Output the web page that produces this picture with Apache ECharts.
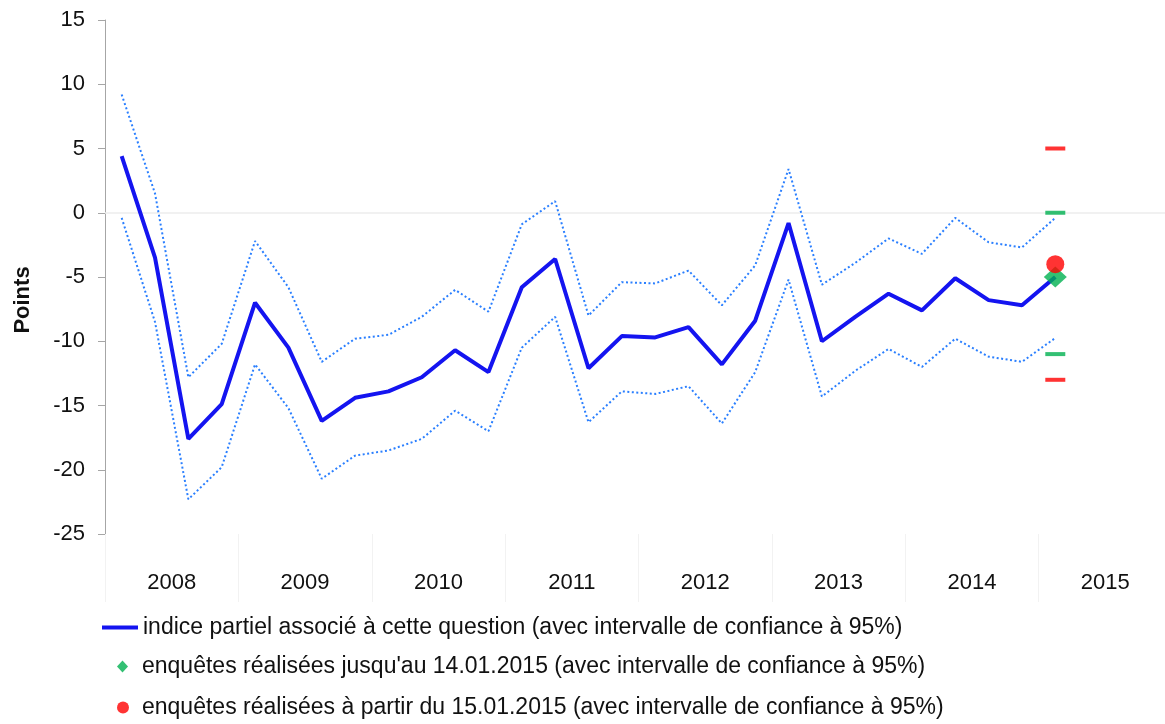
<!DOCTYPE html>
<html>
<head>
<meta charset="utf-8">
<script src="https://cdn.jsdelivr.net/npm/echarts@6/dist/echarts.min.js"></script>
<style>
html,body{margin:0;padding:0;background:#fff;overflow:hidden;width:1165px;height:724px;}
#chart{width:1172px;height:724px;}
</style>
</head>
<body>
<div id="chart"></div>
<script>
const quarters = ['2008T1','2008T2','2008T3','2008T4','2009T1','2009T2','2009T3','2009T4',
  '2010T1','2010T2','2010T3','2010T4','2011T1','2011T2','2011T3','2011T4',
  '2012T1','2012T2','2012T3','2012T4','2013T1','2013T2','2013T3','2013T4',
  '2014T1','2014T2','2014T3','2014T4','2015T1','2015T2','2015T3','2015T4'];
const years = ['2008','2009','2010','2011','2012','2013','2014','2015'];
const yTicks = { min: -25, max: 15, step: 5 };

const indexValues = [4.4, -3.5, -17.6, -14.9, -7.0, -10.5, -16.2, -14.4, -13.9, -12.8, -10.7, -12.4,
  -5.8, -3.6, -12.1, -9.6, -9.7, -8.9, -11.8, -8.4, -0.8, -10.0, -8.1, -6.3, -7.6, -5.1, -6.8, -7.2, -5.0];
const upperCI = [9.2, 1.5, -12.8, -10.2, -2.2, -5.8, -11.6, -9.8, -9.5, -8.1, -6.0, -7.7,
  -0.9, 0.9, -8.0, -5.4, -5.5, -4.5, -7.2, -4.1, 3.4, -5.6, -3.9, -2.0, -3.2, -0.4, -2.3, -2.7, -0.4];
const lowerCI = [-0.4, -8.5, -22.3, -19.8, -11.8, -15.2, -20.7, -18.9, -18.5, -17.6, -15.4, -17.0,
  -10.5, -8.1, -16.3, -13.9, -14.1, -13.5, -16.4, -12.4, -5.2, -14.3, -12.3, -10.6, -12.0, -9.8, -11.2, -11.6, -9.75];

const greenPoint = [['2015T1', -5.0]];
const greenCI = [['2015T1', 0.0], ['2015T1', -11.0]];
const redPoint = [['2015T1', -4.0]];
const redCI = [['2015T1', 5.0], ['2015T1', -13.0]];

const names = [
  'indice partiel associé à cette question (avec intervalle de confiance à 95%)',
  "enquêtes réalisées jusqu'au 14.01.2015 (avec intervalle de confiance à 95%)",
  'enquêtes réalisées à partir du 15.01.2015 (avec intervalle de confiance à 95%)'
];

const FONT = '"Liberation Sans", Arial, sans-serif';
const chart = echarts.init(document.getElementById('chart'));
const legendText = { fontSize: 23, fontFamily: FONT, color: '#111' };

chart.setOption({
  animation: false,
  grid: { left: 105, top: 20, bottom: 190, right: 0 },
  graphic: [{
    type: 'text', x: 23, y: 300, rotation: Math.PI / 2,
    style: { text: 'Points', font: 'bold 22px ' + FONT, fill: '#111', align: 'center', verticalAlign: 'middle' }
  }],
  legend: [
    { data: [{ name: names[0], icon: 'rect' }], left: 102, top: 616, padding: 0, itemWidth: 36, itemHeight: 4,
      textStyle: legendText, selectedMode: false },
    { data: [{ name: names[1], icon: 'diamond' }], left: 117, top: 655, padding: 0, itemWidth: 11, itemHeight: 12,
      textStyle: Object.assign({ padding: [0, 0, 0, 9] }, legendText), selectedMode: false },
    { data: [{ name: names[2], icon: 'circle' }], left: 117, top: 696, padding: 0, itemWidth: 12, itemHeight: 12,
      textStyle: Object.assign({ padding: [0, 0, 0, 8] }, legendText), selectedMode: false }
  ],
  xAxis: [
    { type: 'category', data: quarters, boundaryGap: true, show: false },
    { type: 'category', data: years, boundaryGap: true, position: 'bottom',
      axisLine: { show: false },
      axisTick: { show: true, length: 68, lineStyle: { color: '#f2f2f2', width: 1 } },
      axisLabel: { margin: 38, fontSize: 22, fontFamily: FONT, color: '#111' } }
  ],
  yAxis: {
    type: 'value', min: yTicks.min, max: yTicks.max, interval: yTicks.step,
    axisLine: { show: true, lineStyle: { color: '#a6a6a6', width: 1 } },
    axisTick: { show: true, length: 7, lineStyle: { color: '#a6a6a6' } },
    splitLine: { show: false },
    axisLabel: { margin: 20, fontSize: 22, fontFamily: FONT, color: '#111' }
  },
  series: [
    { name: 'zero', type: 'line', data: [], symbol: 'none', z: 1, silent: true,
      markLine: { silent: true, symbol: 'none', label: { show: false }, z: 1,
        lineStyle: { color: '#ececec', width: 1.5, type: 'solid' }, data: [{ yAxis: 0 }] } },
    { name: 'upper', type: 'line', data: upperCI, symbol: 'none', z: 2,
      lineStyle: { color: '#2a7fff', width: 2, type: [2, 2.5] } },
    { name: 'lower', type: 'line', data: lowerCI, symbol: 'none', z: 2,
      lineStyle: { color: '#2a7fff', width: 2, type: [2, 2.5] } },
    { name: names[0], type: 'line', data: indexValues, symbol: 'none', z: 3,
      itemStyle: { color: '#1414f0' },
      lineStyle: { color: '#1414f0', width: 4 } },
    { name: 'greenCI', type: 'scatter', data: greenCI, symbol: 'rect', symbolSize: [20, 4], z: 4,
      itemStyle: { color: '#00b050' } },
    { name: 'redCI', type: 'scatter', data: redCI, symbol: 'rect', symbolSize: [20, 4], z: 4,
      itemStyle: { color: '#ff0000' } },
    { name: names[1], type: 'scatter', data: greenPoint, symbol: 'diamond', symbolSize: [23, 21], z: 5,
      itemStyle: { color: '#00b050' } },
    { name: names[2], type: 'scatter', data: redPoint, symbol: 'circle', symbolSize: 18, z: 6,
      itemStyle: { color: '#ff0000' } }
  ]
});
</script>
</body>
</html>
